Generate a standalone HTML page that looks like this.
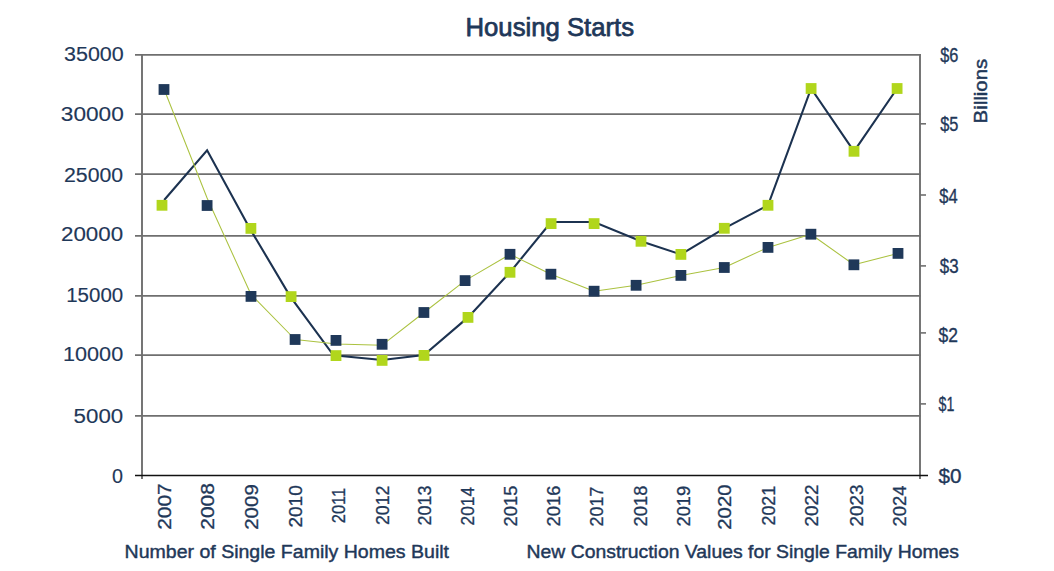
<!DOCTYPE html>
<html><head><meta charset="utf-8"><title>Housing Starts</title>
<style>html,body{margin:0;padding:0;background:#fff;width:1054px;height:571px;overflow:hidden}
svg text{font-family:"Liberation Sans", sans-serif}</style></head>
<body>
<svg width="1054" height="571" viewBox="0 0 1054 571" style="display:block">
<rect width="1054" height="571" fill="#fff"/>
<line x1="135" y1="54.8" x2="920.5" y2="54.8" stroke="#6f6f6f" stroke-width="1.8"/>
<line x1="135" y1="114.2" x2="920.5" y2="114.2" stroke="#6f6f6f" stroke-width="1.8"/>
<line x1="135" y1="174.1" x2="920.5" y2="174.1" stroke="#6f6f6f" stroke-width="1.8"/>
<line x1="135" y1="235.8" x2="920.5" y2="235.8" stroke="#6f6f6f" stroke-width="1.8"/>
<line x1="135" y1="295.8" x2="920.5" y2="295.8" stroke="#6f6f6f" stroke-width="1.8"/>
<line x1="135" y1="355.1" x2="920.5" y2="355.1" stroke="#6f6f6f" stroke-width="1.8"/>
<line x1="135" y1="415.8" x2="920.5" y2="415.8" stroke="#6f6f6f" stroke-width="1.8"/>
<line x1="142" y1="54" x2="142" y2="479" stroke="#6f6f6f" stroke-width="1.9"/>
<line x1="920" y1="54" x2="920" y2="479" stroke="#6f6f6f" stroke-width="1.9"/>
<line x1="920" y1="123.8" x2="926" y2="123.8" stroke="#6f6f6f" stroke-width="1.6"/>
<line x1="920" y1="195" x2="926" y2="195" stroke="#6f6f6f" stroke-width="1.6"/>
<line x1="920" y1="265.9" x2="926" y2="265.9" stroke="#6f6f6f" stroke-width="1.6"/>
<line x1="920" y1="332.9" x2="926" y2="332.9" stroke="#6f6f6f" stroke-width="1.6"/>
<line x1="920" y1="403.9" x2="926" y2="403.9" stroke="#6f6f6f" stroke-width="1.6"/>
<line x1="135" y1="475.5" x2="928" y2="475.5" stroke="#111" stroke-width="1.4"/>
<text x="465.50" y="36.40" font-size="25.8" fill="#1f3859" stroke="#1f3859" stroke-width="0.75" stroke-linejoin="round" textLength="168.50" lengthAdjust="spacingAndGlyphs">Housing Starts</text>
<text x="64.00" y="61.44" font-size="19.6" fill="#1f3859" stroke="#1f3859" stroke-width="0.15" stroke-linejoin="round" textLength="59.80" lengthAdjust="spacingAndGlyphs">35000</text>
<text x="60.80" y="120.54" font-size="19.6" fill="#1f3859" stroke="#1f3859" stroke-width="0.15" stroke-linejoin="round" textLength="63.00" lengthAdjust="spacingAndGlyphs">30000</text>
<text x="64.00" y="181.59" font-size="19.6" fill="#1f3859" stroke="#1f3859" stroke-width="0.15" stroke-linejoin="round" textLength="59.20" lengthAdjust="spacingAndGlyphs">25000</text>
<text x="61.00" y="240.84" font-size="19.6" fill="#1f3859" stroke="#1f3859" stroke-width="0.15" stroke-linejoin="round" textLength="62.20" lengthAdjust="spacingAndGlyphs">20000</text>
<text x="66.20" y="301.64" font-size="19.6" fill="#1f3859" stroke="#1f3859" stroke-width="0.15" stroke-linejoin="round" textLength="57.00" lengthAdjust="spacingAndGlyphs">15000</text>
<text x="63.00" y="360.54" font-size="19.6" fill="#1f3859" stroke="#1f3859" stroke-width="0.15" stroke-linejoin="round" textLength="60.20" lengthAdjust="spacingAndGlyphs">10000</text>
<text x="73.60" y="422.59" font-size="19.6" fill="#1f3859" stroke="#1f3859" stroke-width="0.15" stroke-linejoin="round" textLength="49.60" lengthAdjust="spacingAndGlyphs">5000</text>
<text x="112.00" y="482.64" font-size="19.6" fill="#1f3859" stroke="#1f3859" stroke-width="0.15" stroke-linejoin="round" textLength="11.00" lengthAdjust="spacingAndGlyphs">0</text>
<text x="940.20" y="61.59" font-size="19.6" fill="#1f3859" stroke="#1f3859" stroke-width="0.35" stroke-linejoin="round" textLength="18.20" lengthAdjust="spacingAndGlyphs">$6</text>
<text x="940.20" y="130.64" font-size="19.6" fill="#1f3859" stroke="#1f3859" stroke-width="0.35" stroke-linejoin="round" textLength="18.20" lengthAdjust="spacingAndGlyphs">$5</text>
<text x="939.20" y="202.64" font-size="19.6" fill="#1f3859" stroke="#1f3859" stroke-width="0.35" stroke-linejoin="round" textLength="18.40" lengthAdjust="spacingAndGlyphs">$4</text>
<text x="939.80" y="272.64" font-size="19.6" fill="#1f3859" stroke="#1f3859" stroke-width="0.35" stroke-linejoin="round" textLength="18.80" lengthAdjust="spacingAndGlyphs">$3</text>
<text x="938.60" y="341.59" font-size="19.6" fill="#1f3859" stroke="#1f3859" stroke-width="0.35" stroke-linejoin="round" textLength="19.40" lengthAdjust="spacingAndGlyphs">$2</text>
<text x="938.60" y="410.64" font-size="19.6" fill="#1f3859" stroke="#1f3859" stroke-width="0.35" stroke-linejoin="round" textLength="15.80" lengthAdjust="spacingAndGlyphs">$1</text>
<text x="938.60" y="482.74" font-size="19.6" fill="#1f3859" stroke="#1f3859" stroke-width="0.35" stroke-linejoin="round" textLength="23.00" lengthAdjust="spacingAndGlyphs">$0</text>
<text transform="translate(986.90,123.40) rotate(-90)" font-size="19.2" fill="#1f3859" stroke="#1f3859" stroke-width="0.45" stroke-linejoin="round" textLength="64.60" lengthAdjust="spacingAndGlyphs">Billions</text>
<text x="124.60" y="558.30" font-size="19.2" fill="#1f3859" stroke="#1f3859" stroke-width="0.45" stroke-linejoin="round" textLength="324.40" lengthAdjust="spacingAndGlyphs">Number of Single Family Homes Built</text>
<text x="526.60" y="558.00" font-size="19.2" fill="#1f3859" stroke="#1f3859" stroke-width="0.45" stroke-linejoin="round" textLength="432.40" lengthAdjust="spacingAndGlyphs">New Construction Values for Single Family Homes</text>
<text transform="translate(170.97,529.80) rotate(-90)" font-size="18.8" fill="#1f3859" stroke="#1f3859" stroke-width="0.3" stroke-linejoin="round" textLength="46.40" lengthAdjust="spacingAndGlyphs">2007</text>
<text transform="translate(214.32,529.80) rotate(-90)" font-size="18.8" fill="#1f3859" stroke="#1f3859" stroke-width="0.3" stroke-linejoin="round" textLength="46.80" lengthAdjust="spacingAndGlyphs">2008</text>
<text transform="translate(258.07,529.80) rotate(-90)" font-size="18.8" fill="#1f3859" stroke="#1f3859" stroke-width="0.3" stroke-linejoin="round" textLength="45.60" lengthAdjust="spacingAndGlyphs">2009</text>
<text transform="translate(301.62,527.60) rotate(-90)" font-size="18.8" fill="#1f3859" stroke="#1f3859" stroke-width="0.3" stroke-linejoin="round" textLength="42.40" lengthAdjust="spacingAndGlyphs">2010</text>
<text transform="translate(345.07,523.20) rotate(-90)" font-size="18.8" fill="#1f3859" stroke="#1f3859" stroke-width="0.3" stroke-linejoin="round" textLength="35.40" lengthAdjust="spacingAndGlyphs">2011</text>
<text transform="translate(388.82,525.00) rotate(-90)" font-size="18.8" fill="#1f3859" stroke="#1f3859" stroke-width="0.3" stroke-linejoin="round" textLength="39.40" lengthAdjust="spacingAndGlyphs">2012</text>
<text transform="translate(431.27,525.40) rotate(-90)" font-size="18.8" fill="#1f3859" stroke="#1f3859" stroke-width="0.3" stroke-linejoin="round" textLength="39.80" lengthAdjust="spacingAndGlyphs">2013</text>
<text transform="translate(474.17,525.40) rotate(-90)" font-size="18.8" fill="#1f3859" stroke="#1f3859" stroke-width="0.3" stroke-linejoin="round" textLength="38.40" lengthAdjust="spacingAndGlyphs">2014</text>
<text transform="translate(516.82,526.40) rotate(-90)" font-size="18.8" fill="#1f3859" stroke="#1f3859" stroke-width="0.3" stroke-linejoin="round" textLength="40.80" lengthAdjust="spacingAndGlyphs">2015</text>
<text transform="translate(560.02,526.40) rotate(-90)" font-size="18.8" fill="#1f3859" stroke="#1f3859" stroke-width="0.3" stroke-linejoin="round" textLength="40.80" lengthAdjust="spacingAndGlyphs">2016</text>
<text transform="translate(602.82,526.40) rotate(-90)" font-size="18.8" fill="#1f3859" stroke="#1f3859" stroke-width="0.3" stroke-linejoin="round" textLength="39.60" lengthAdjust="spacingAndGlyphs">2017</text>
<text transform="translate(646.62,526.40) rotate(-90)" font-size="18.8" fill="#1f3859" stroke="#1f3859" stroke-width="0.3" stroke-linejoin="round" textLength="40.80" lengthAdjust="spacingAndGlyphs">2018</text>
<text transform="translate(690.02,526.40) rotate(-90)" font-size="18.8" fill="#1f3859" stroke="#1f3859" stroke-width="0.3" stroke-linejoin="round" textLength="40.40" lengthAdjust="spacingAndGlyphs">2019</text>
<text transform="translate(730.97,529.80) rotate(-90)" font-size="18.8" fill="#1f3859" stroke="#1f3859" stroke-width="0.3" stroke-linejoin="round" textLength="45.40" lengthAdjust="spacingAndGlyphs">2020</text>
<text transform="translate(775.17,525.40) rotate(-90)" font-size="18.8" fill="#1f3859" stroke="#1f3859" stroke-width="0.3" stroke-linejoin="round" textLength="39.40" lengthAdjust="spacingAndGlyphs">2021</text>
<text transform="translate(818.27,526.40) rotate(-90)" font-size="18.8" fill="#1f3859" stroke="#1f3859" stroke-width="0.3" stroke-linejoin="round" textLength="42.00" lengthAdjust="spacingAndGlyphs">2022</text>
<text transform="translate(862.62,526.40) rotate(-90)" font-size="18.8" fill="#1f3859" stroke="#1f3859" stroke-width="0.3" stroke-linejoin="round" textLength="42.00" lengthAdjust="spacingAndGlyphs">2023</text>
<text transform="translate(906.37,526.40) rotate(-90)" font-size="18.8" fill="#1f3859" stroke="#1f3859" stroke-width="0.3" stroke-linejoin="round" textLength="40.80" lengthAdjust="spacingAndGlyphs">2024</text>
<polyline points="164.2,200 207.1,150.3 249.8,228.4 290.3,296.6 333.5,355.3 382.1,360 424,355 468,317.4 510,272.3 551.1,222 594.1,222 641,241.3 680.9,254.4 724.3,228.3 768,205.3 811.1,88.5 854,151.3 897.1,88.5" fill="none" stroke="#1c3250" stroke-width="2.1" stroke-linejoin="miter"/>
<polyline points="164.2,89.5 207.1,198 251,294.5 295.1,339.5 336.5,343.9 382.1,345.2 424,312.5 465.1,280.6 510,254.3 550.9,274.2 594.1,291.2 636.1,285.3 680.9,275.4 724.3,267.5 768,247.4 810.9,234.2 853.9,264.8 898,253.4" fill="none" stroke="#abc240" stroke-width="1.05" stroke-linejoin="round"/>
<rect x="158.60" y="84.10" width="10.8" height="10.8" fill="#1f3859"/>
<rect x="201.70" y="200.10" width="10.8" height="10.8" fill="#1f3859"/>
<rect x="245.60" y="291.00" width="10.8" height="10.8" fill="#1f3859"/>
<rect x="289.70" y="334.10" width="10.8" height="10.8" fill="#1f3859"/>
<rect x="330.60" y="335.00" width="10.8" height="10.8" fill="#1f3859"/>
<rect x="376.70" y="338.90" width="10.8" height="10.8" fill="#1f3859"/>
<rect x="418.50" y="307.10" width="10.8" height="10.8" fill="#1f3859"/>
<rect x="459.70" y="275.20" width="10.8" height="10.8" fill="#1f3859"/>
<rect x="504.60" y="248.90" width="10.8" height="10.8" fill="#1f3859"/>
<rect x="545.50" y="268.80" width="10.8" height="10.8" fill="#1f3859"/>
<rect x="588.70" y="285.80" width="10.8" height="10.8" fill="#1f3859"/>
<rect x="630.70" y="279.90" width="10.8" height="10.8" fill="#1f3859"/>
<rect x="675.50" y="270.00" width="10.8" height="10.8" fill="#1f3859"/>
<rect x="718.90" y="262.10" width="10.8" height="10.8" fill="#1f3859"/>
<rect x="762.60" y="242.00" width="10.8" height="10.8" fill="#1f3859"/>
<rect x="805.50" y="228.80" width="10.8" height="10.8" fill="#1f3859"/>
<rect x="848.50" y="259.40" width="10.8" height="10.8" fill="#1f3859"/>
<rect x="892.60" y="248.00" width="10.8" height="10.8" fill="#1f3859"/>
<rect x="156.60" y="199.90" width="10.8" height="10.8" fill="#b1d61c"/>
<rect x="245.50" y="223.00" width="10.8" height="10.8" fill="#b1d61c"/>
<rect x="285.70" y="291.20" width="10.8" height="10.8" fill="#b1d61c"/>
<rect x="330.60" y="350.20" width="10.8" height="10.8" fill="#b1d61c"/>
<rect x="376.70" y="355.00" width="10.8" height="10.8" fill="#b1d61c"/>
<rect x="418.60" y="350.00" width="10.8" height="10.8" fill="#b1d61c"/>
<rect x="462.60" y="312.00" width="10.8" height="10.8" fill="#b1d61c"/>
<rect x="504.60" y="266.90" width="10.8" height="10.8" fill="#b1d61c"/>
<rect x="545.70" y="218.20" width="10.8" height="10.8" fill="#b1d61c"/>
<rect x="588.70" y="218.20" width="10.8" height="10.8" fill="#b1d61c"/>
<rect x="635.60" y="235.90" width="10.8" height="10.8" fill="#b1d61c"/>
<rect x="675.50" y="249.00" width="10.8" height="10.8" fill="#b1d61c"/>
<rect x="718.90" y="222.90" width="10.8" height="10.8" fill="#b1d61c"/>
<rect x="762.60" y="199.90" width="10.8" height="10.8" fill="#b1d61c"/>
<rect x="805.70" y="83.10" width="10.8" height="10.8" fill="#b1d61c"/>
<rect x="848.60" y="145.90" width="10.8" height="10.8" fill="#b1d61c"/>
<rect x="891.70" y="83.10" width="10.8" height="10.8" fill="#b1d61c"/>
</svg>
</body></html>
